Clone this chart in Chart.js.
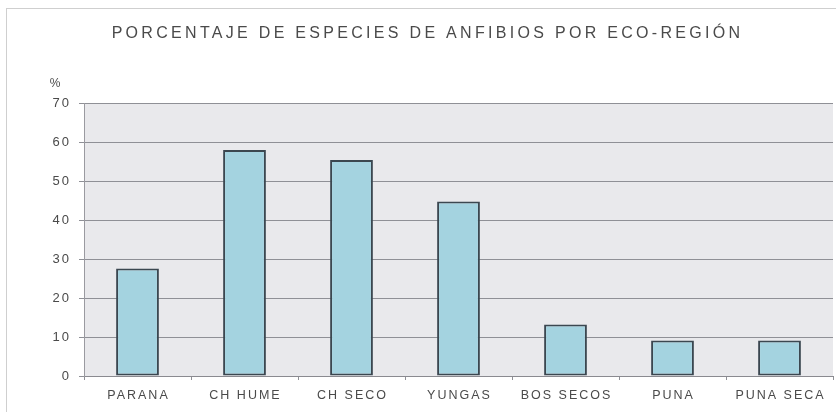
<!DOCTYPE html>
<html>
<head>
<meta charset="utf-8">
<script src="https://cdn.jsdelivr.net/npm/chart.js@4/dist/chart.umd.min.js"></script>
<style>
html,body{margin:0;padding:0;background:#fff;}
#wrap{width:836px;height:412px;position:relative;}
</style>
</head>
<body>
<div id="wrap"><canvas id="c" width="836" height="412"></canvas></div>
<script>
const titleText = 'PORCENTAJE DE ESPECIES DE ANFIBIOS POR ECO-REGIÓN';
const unitLabel = '%';
const categories = ['PARANA', 'CH HUME', 'CH SECO', 'YUNGAS', 'BOS SECOS', 'PUNA', 'PUNA SECA'];
const percentages = [27.6, 58.0, 55.4, 44.8, 13.2, 9.1, 9.1];
const yTicks = [0, 10, 20, 30, 40, 50, 60, 70];

const textColor = '#4a4a4a';
const gridColor = '#8f9096';
const fontFamily = '"Liberation Sans", Arial, sans-serif';

function wrapSpacing(obj, method, spacing, dx) {
  if (!obj) return;
  const key = '__wrapped_' + method;
  if (obj[key]) return;
  const orig = obj[method];
  obj[method] = function (...args) {
    const ctx = this.ctx;
    ctx.save();
    ctx.letterSpacing = spacing;
    if (dx) ctx.translate(dx, 0);
    orig.apply(this, args);
    ctx.restore();
  };
  obj[key] = true;
}

const decor = {
  id: 'decor',
  afterUpdate(chart) {
    wrapSpacing(chart.titleBlock, 'draw', '3.3px', 11);
    wrapSpacing(chart.scales.x, 'drawLabels', '2px', 1);
    wrapSpacing(chart.scales.y, 'drawLabels', '2px', 0);
  },
  beforeDraw(chart) {
    const ctx = chart.ctx;
    const a = chart.chartArea;
    ctx.save();
    ctx.strokeStyle = '#cfcfcf';
    ctx.lineWidth = 1;
    ctx.strokeRect(6.5, 8.5, 840, 420);
    ctx.fillStyle = '#e9e9ec';
    ctx.fillRect(a.left, a.top, a.right - a.left, a.bottom - a.top);
    ctx.restore();
  },
  afterDraw(chart) {
    const ctx = chart.ctx;
    const a = chart.chartArea;
    ctx.save();
    ctx.fillStyle = textColor;
    ctx.font = '12px ' + fontFamily;
    ctx.textAlign = 'center';
    ctx.textBaseline = 'middle';
    ctx.fillText(unitLabel, a.left - 29, a.top - 20);
    ctx.restore();
  }
};

new Chart(document.getElementById('c'), {
  type: 'bar',
  data: {
    labels: categories,
    datasets: [{
      data: percentages,
      backgroundColor: '#a4d3e0',
      borderColor: '#3b4750',
      borderWidth: 2,
      borderSkipped: false,
      categoryPercentage: 1,
      barPercentage: 0.40
    }]
  },
  options: {
    responsive: false,
    animation: false,
    devicePixelRatio: 1,
    layout: { padding: { top: 0, left: 0, right: 3, bottom: 1 } },
    plugins: {
      legend: { display: false },
      tooltip: { enabled: false },
      title: {
        display: true,
        text: titleText,
        color: textColor,
        font: { family: fontFamily, size: 16, weight: 'normal' },
        padding: { top: 24, bottom: 60 }
      }
    },
    scales: {
      x: {
        grid: { display: true, drawOnChartArea: false, drawTicks: true, tickLength: 4, color: gridColor, offset: true },
        border: { display: true, color: '#8a8a90', width: 1 },
        ticks: { color: textColor, padding: 8, font: { family: fontFamily, size: 12.5 }, maxRotation: 0, autoSkip: false }
      },
      y: {
        min: 0,
        max: 70,
        afterBuildTicks(scale) { scale.ticks = yTicks.map(v => ({ value: v })); },
        afterFit(scale) { scale.width = 84; },
        grid: { color: gridColor, tickLength: 5, drawTicks: true },
        border: { display: true, color: '#9a9aa0', width: 1 },
        ticks: { color: textColor, padding: 8, font: { family: fontFamily, size: 13 } }
      }
    }
  },
  plugins: [decor]
});
</script>
</body>
</html>
